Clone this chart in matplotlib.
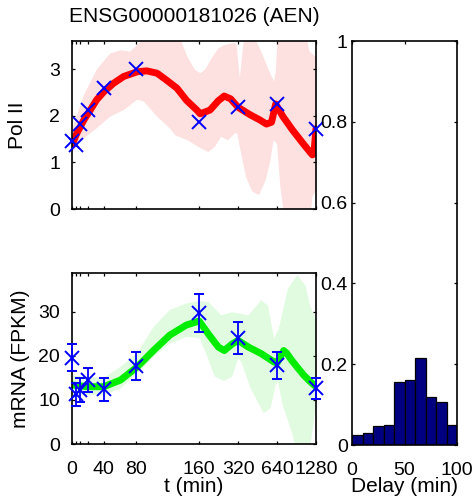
import numpy as np
import matplotlib
matplotlib.use("Agg")
import matplotlib.pyplot as plt

# ---- observations -------------------------------------------------------
t_obs = [0, 5, 10, 20, 40, 80, 160, 320, 640, 1280]
pol2_obs = [1.45, 1.37, 1.82, 2.12, 2.59, 3.00, 1.86, 2.18, 2.25, 1.72]
mrna_obs = [19.6, 11.3, 12.2, 14.5, 12.4, 17.7, 29.8, 24.0, 17.9, 12.6]
mrna_err = [3.0, 2.6, 2.7, 2.65, 2.65, 3.2, 4.3, 3.6, 3.05, 2.45]

# ---- Pol II posterior mean and credible band ----------------------------
pol2_mean_t = [0, 6, 15, 23, 31, 40, 52, 65, 82, 94, 107, 119, 132, 144, 157,
               163, 194, 225, 250, 280, 320, 396, 470, 530, 580, 625, 711,
               844, 1012, 1150, 1200, 1232, 1280]
pol2_mean = [1.37, 1.62, 1.91, 2.12, 2.34, 2.51, 2.69, 2.84, 2.94, 2.96, 2.91,
             2.76, 2.59, 2.33, 2.12, 2.04, 2.12, 2.32, 2.42, 2.36, 2.18, 2.02,
             1.91, 1.82, 1.86, 2.25, 1.98, 1.69, 1.41, 1.22, 1.16, 1.18, 1.72]

pol2_up_t = [0, 2, 15, 31, 48, 61, 73, 86, 90, 134, 146, 155, 163, 177, 200,
             225, 250, 288, 310, 330, 352, 384, 433, 483, 545, 607, 625, 651,
             1073, 1135, 1280]
pol2_up = [1.72, 1.80, 2.44, 2.98, 3.33, 3.40, 3.37, 3.58, 3.75, 3.75, 3.23,
           2.98, 2.91, 2.98, 3.23, 3.44, 3.51, 3.55, 3.55, 2.80, 3.55, 3.75,
           3.65, 3.37, 3.01, 2.73, 2.94, 3.75, 3.75, 3.38, 3.25]

pol2_lo_t = [0, 10, 31, 48, 65, 82, 90, 107, 123, 130, 146, 159, 188, 211,
             237, 268, 301, 315, 338, 368, 413, 465, 523, 570, 600, 640, 678,
             740, 1150, 1200, 1280]
pol2_lo = [1.20, 1.45, 1.73, 1.98, 2.12, 2.34, 2.31, 1.98, 1.73, 1.58, 1.47,
           1.33, 1.22, 1.33, 1.55, 1.47, 1.62, 1.62, 1.19, 0.69, 0.37, 0.30,
           0.62, 1.05, 1.47, 1.40, 0.48, -0.30, -0.30, 0.26, 0.40]

# ---- mRNA posterior mean and credible band ------------------------------
mrna_mean_t = [0, 19, 40, 61, 82, 103, 123, 144, 160, 188, 225, 250, 288,
               320, 384, 483, 607, 640, 720, 760, 830, 930, 1030, 1150, 1280]
mrna_mean = [13.4, 13.0, 13.0, 14.5, 17.5, 21.3, 24.7, 27.0, 27.9, 25.0, 22.0,
             21.2, 22.7, 23.5, 22.0, 20.5, 18.6, 18.4, 21.2, 20.6, 19.0, 17.2,
             15.6, 14.2, 13.0]

mrna_up_t = [0, 20, 40, 61, 82, 103, 123, 144, 161, 188, 237, 288, 384, 483,
             545, 607, 660, 775, 920, 1060, 1150, 1280]
mrna_up = [15.6, 15.2, 15.0, 17.5, 20.6, 26.6, 30.4, 31.9, 32.4, 32.2, 29.2,
           29.9, 29.2, 32.6, 31.4, 23.9, 26.1, 35.2, 38.3, 36.0, 31.5, 28.0]

mrna_lo_t = [0, 40, 61, 82, 103, 123, 144, 161, 183, 211, 250, 288, 320, 338,
             400, 505, 570, 625, 651, 708, 830, 900, 1150, 1230, 1280]
mrna_lo = [11.1, 11.1, 12.6, 16.0, 19.8, 22.8, 24.3, 24.0, 20.2, 15.3, 14.3,
           15.3, 19.4, 18.7, 12.6, 7.0, 8.1, 13.4, 14.1, 8.8, 2.8, -1.0, -1.0,
           5.0, 10.0]

# ---- delay posterior histogram ------------------------------------------
delay_bins = [0, 10, 20, 30, 40, 50, 60, 70, 80, 90]
delay_prob = [0.025, 0.030, 0.046, 0.050, 0.155, 0.161, 0.216, 0.120, 0.106, 0.050]

time_ticks = [0, 5, 10, 20, 40, 80, 160, 320, 640, 1280]
time_labels = ["0", "", "", "", "40", "80", "160", "320", "640", "1280"]


# ---- time axis: linear up to 160 min, logarithmic beyond -----------------
def fwd(t):
    t = np.asarray(t, float)
    with np.errstate(divide="ignore", invalid="ignore"):
        lg = 160 + 49 * np.log2(np.maximum(t, 1e-9) / 160)
    return np.where(t <= 160, t, lg)


def inv(x):
    x = np.asarray(x, float)
    with np.errstate(over="ignore"):
        ex = 160 * 2 ** ((x - 160) / 49)
    return np.where(x <= 160, x, ex)


plt.rcParams["font.family"] = ["Liberation Sans", "DejaVu Sans"]
plt.rcParams["font.size"] = 14
LABEL_SIZE = 15

W, H = 475, 498
fig = plt.figure(figsize=(W / 100, H / 100), dpi=100)


def box(l, t, r, b):
    return [l / W, 1 - b / H, (r - l) / W, (b - t) / H]


ax_p = fig.add_axes(box(72, 41, 316, 209))
ax_m = fig.add_axes(box(72, 273, 316, 444))
ax_h = fig.add_axes(box(352, 41, 457, 445))

for ax in (ax_p, ax_m, ax_h):
    for s in ax.spines.values():
        s.set_linewidth(1.2)
    ax.tick_params(direction="in", top=True, right=True, length=2.5, width=0.9)

blue = (0, 0, 1)


def time_panel(ax, mt, m, ut, u, lt, lo, band, line):
    ax.set_xscale("function", functions=(fwd, inv))
    ax.fill(np.r_[ut, lt[::-1]], np.r_[u, lo[::-1]], color=band, lw=0, zorder=1)
    ax.plot(mt, m, color=line, lw=5, solid_capstyle="round",
            solid_joinstyle="round", zorder=2)
    ax.set_xlim(0, 1280)
    ax.set_xticks(time_ticks)
    ax.xaxis.set_minor_locator(matplotlib.ticker.NullLocator())
    ax.tick_params(axis="y", pad=8.5)
    ax.tick_params(axis="x", pad=12)


time_panel(ax_p, pol2_mean_t, pol2_mean, np.array(pol2_up_t), pol2_up,
           np.array(pol2_lo_t), np.array(pol2_lo), "#fde0e0", (1, 0, 0))
ax_p.plot(t_obs, pol2_obs, "x", color=blue, ms=10.5, mew=1.4, clip_on=False,
          zorder=5)
ax_p.set_ylim(0, 3.6)
ax_p.set_yticks([0, 1, 2, 3])
ax_p.set_xticklabels([""] * len(time_ticks))
ax_p.set_ylabel("Pol II", fontsize=LABEL_SIZE, va="center")
ax_p.yaxis.set_label_coords(-0.225, 0.5)

time_panel(ax_m, mrna_mean_t, mrna_mean, np.array(mrna_up_t), mrna_up,
           np.array(mrna_lo_t), np.array(mrna_lo), "#e0fbe0", (0, 0.93, 0))
eb = ax_m.errorbar(t_obs, mrna_obs, yerr=mrna_err, fmt="x", color=blue, ms=10.5,
                   mew=1.4, elinewidth=1.3, capsize=3.5, capthick=1.3, zorder=5)
for part in eb.get_children():
    part.set_clip_on(False)
ax_m.set_ylim(0, 38.8)
ax_m.set_yticks([0, 10, 20, 30])
ax_m.set_xticklabels(time_labels)
ax_m.set_ylabel("mRNA (FPKM)", fontsize=LABEL_SIZE, va="center")
ax_m.yaxis.set_label_coords(-0.213, 0.5)
ax_m.set_xlabel("t (min)", fontsize=LABEL_SIZE, va="center")
ax_m.xaxis.set_label_coords(0.5, -0.248)

ax_h.bar(delay_bins, delay_prob, width=10, align="edge", color="#000080",
         edgecolor="black", linewidth=0.9, zorder=2)
ax_h.set_xlim(0, 100)
ax_h.set_ylim(0, 1)
ax_h.set_xticks([0, 50, 100])
ax_h.set_yticks([0, 0.2, 0.4, 0.6, 0.8, 1])
ax_h.set_yticklabels(["0", "0.2", "0.4", "0.6", "0.8", "1"])
ax_h.tick_params(axis="y", pad=3)
ax_h.tick_params(axis="x", pad=12)
ax_h.set_xlabel("Delay (min)", fontsize=LABEL_SIZE, va="center")
ax_h.xaxis.set_label_coords(0.5, -0.103)

fig.text(194 / W, 1 - 17 / H, "ENSG00000181026 (AEN)", ha="center", va="center",
         fontsize=LABEL_SIZE)

fig.savefig("out.png", dpi=100)
